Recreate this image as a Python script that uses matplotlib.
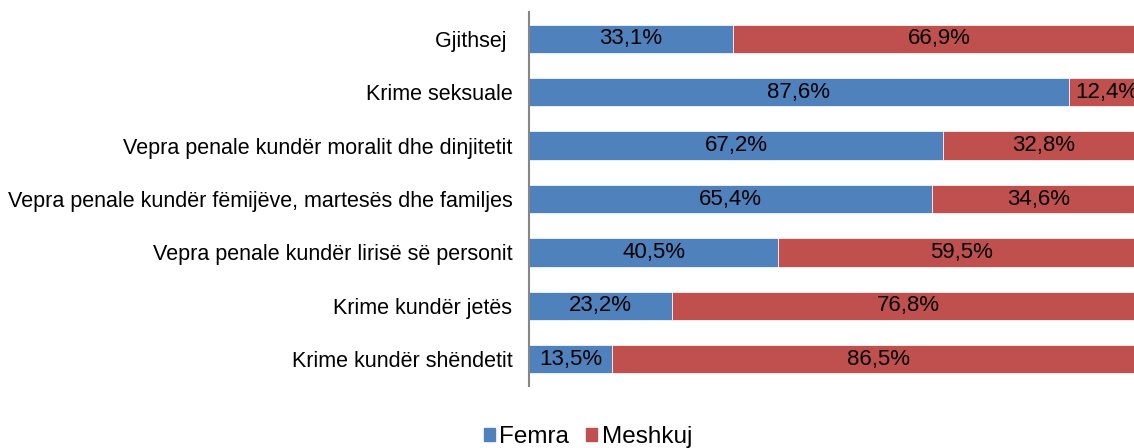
import matplotlib
matplotlib.use("Agg")
import matplotlib.pyplot as plt
from matplotlib.patches import Patch

categories = ["Gjithsej ", "Krime seksuale", "Vepra penale kundër moralit dhe dinjitetit",
              "Vepra penale kundër fëmijëve, martesës dhe familjes",
              "Vepra penale kundër lirisë së personit", "Krime kundër jetës",
              "Krime kundër shëndetit"]
femra = [33.1, 87.6, 67.2, 65.4, 40.5, 23.2, 13.5]
meshkuj = [66.9, 12.4, 32.8, 34.6, 59.5, 76.8, 86.5]
series_names = ["Femra", "Meshkuj"]
colors = ["#4F81BD", "#C0504D"]

plt.rcParams['font.family'] = ['Liberation Sans', 'DejaVu Sans']

fig = plt.figure(figsize=(11.34, 4.48), dpi=100)
ax = fig.add_axes([529/1134, (448-386)/448, 616/1134, 374/448])

y = list(range(len(categories)))
h = 0.53
ax.barh(y, femra, height=h, color=colors[0], edgecolor="#ffffff", linewidth=0.5)
ax.barh(y, meshkuj, left=femra, height=h, color=colors[1], edgecolor="#ffffff", linewidth=0.5)

fs_lab = 15.5
fs_data = 16
for i in range(len(categories)):
    ax.text(femra[i] / 2, i, f"{femra[i]:.1f}%".replace(".", ","), ha="center", va="center", fontsize=fs_data, color="black")
    ax.text(femra[i] + meshkuj[i] / 2, i, f"{meshkuj[i]:.1f}%".replace(".", ","), ha="center", va="center", fontsize=fs_data, color="black")

ax.set_xlim(0, 100)
ax.set_ylim(len(categories) - 0.5, -0.5)
ax.set_yticks(y)
ax.set_yticklabels(categories, fontsize=fs_lab)
ax.tick_params(axis="y", length=0, pad=12)
ax.set_xticks([])
for s in ["top", "right", "bottom"]:
    ax.spines[s].set_visible(False)
ax.spines["left"].set_color("#868686")
ax.spines["left"].set_linewidth(1.5)

handles = [Patch(color=colors[0]), Patch(color=colors[1])]
fig.legend(handles, series_names, loc="center", bbox_to_anchor=(588/1134, 1 - 437/448), ncol=2,
           frameon=False, fontsize=17.5, handlelength=0.45, handleheight=0.45, handletextpad=0.2, columnspacing=0.7)

fig.savefig("out.png", dpi=100)
